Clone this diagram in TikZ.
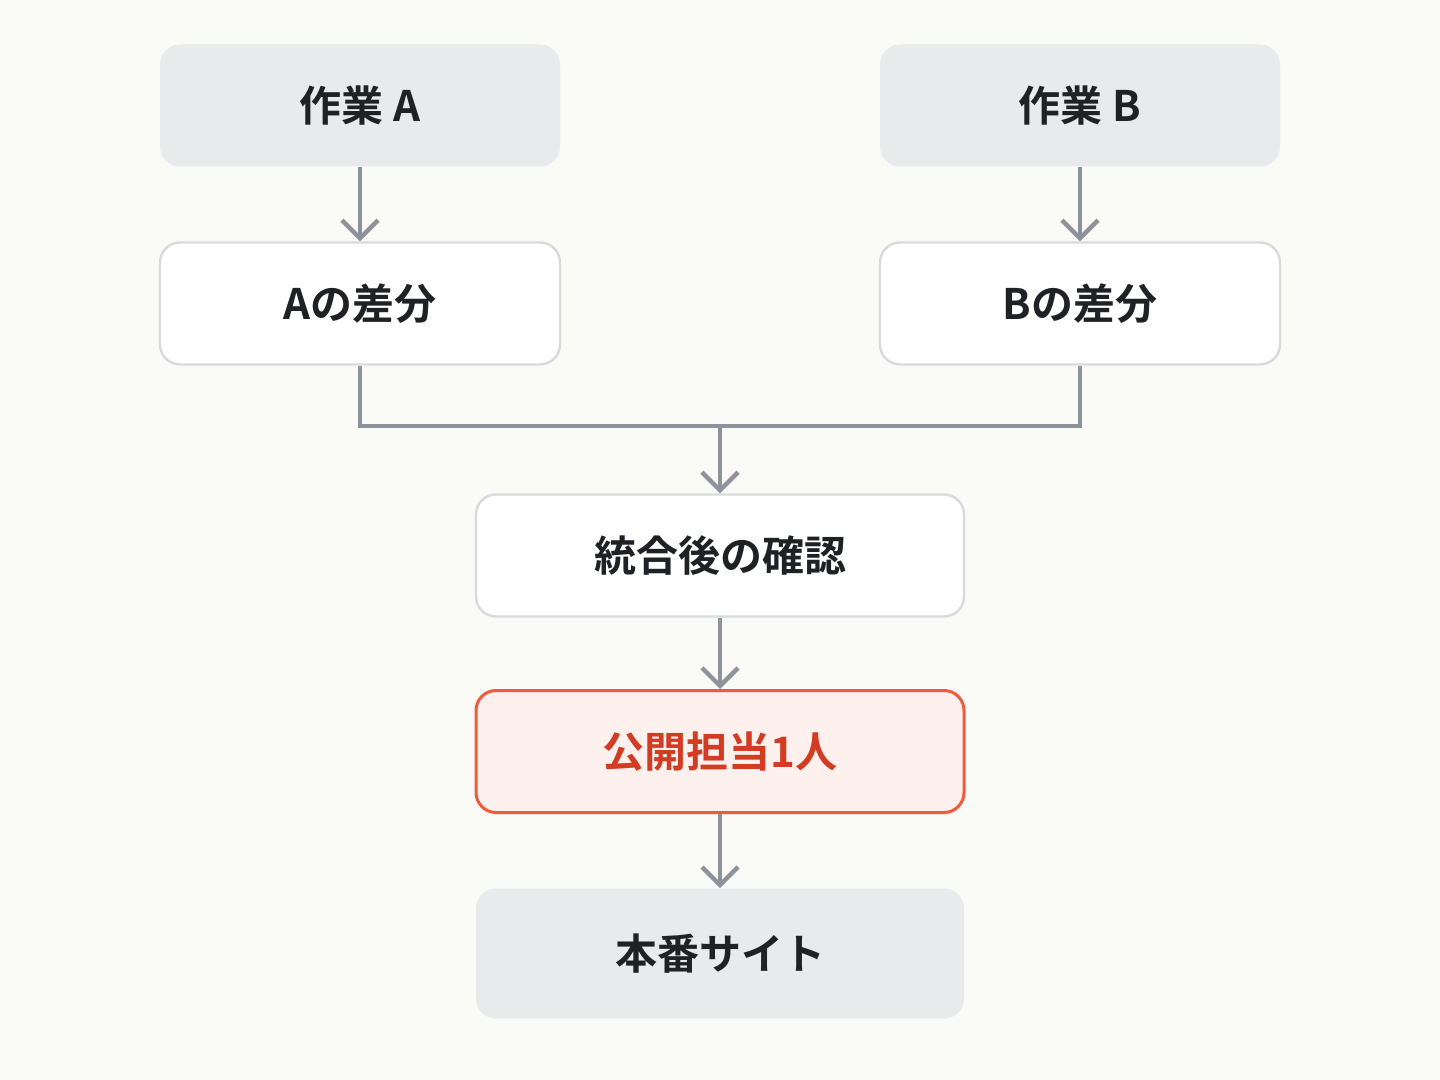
\documentclass[tikz,border=0pt]{standalone}
\usepackage{fontspec}
\setmainfont{Noto Sans CJK JP}[BoldFont={* Bold}]
\usetikzlibrary{arrows.meta}
\definecolor{bg}{HTML}{FAFAF7}
\definecolor{gfill}{HTML}{E9EAEC}
\definecolor{gborder}{HTML}{D9DADD}
\definecolor{arr}{HTML}{8E939B}
\definecolor{rfill}{HTML}{FEF0ED}
\definecolor{rborder}{HTML}{F25A3C}
\definecolor{rtext}{HTML}{D23C22}
\definecolor{txt}{HTML}{1F2125}
\tikzset{
 box/.style={rounded corners=10pt,minimum height=61pt,inner sep=0pt,font=\bfseries\fontsize{21}{25}\selectfont,text=txt},
 grey/.style={box,fill=gfill},
 white/.style={box,fill=white,draw=gborder,line width=1.2pt},
 red/.style={box,fill=rfill,draw=rborder,line width=1.5pt,text=rtext},
 conn/.style={draw=arr,line width=2pt,-{Straight Barb[length=9pt,width=18pt,line width=2.2pt]}},
 line/.style={draw=arr,line width=2pt}
}
\begin{document}
\begin{tikzpicture}[x=0.5pt,y=-0.5pt]
\fill[bg] (0,0) rectangle (1440,1080);
\useasboundingbox (0,0) rectangle (1440,1080);
\node[grey,minimum width=200pt] (wa) at (360,105.5) {作業 A};
\node[grey,minimum width=200pt] (wb) at (1080,105.5) {作業 B};
\node[white,minimum width=200pt] (da) at (360,303.5) {Aの差分};
\node[white,minimum width=200pt] (db) at (1080,303.5) {Bの差分};
\node[white,minimum width=244pt] (ck) at (720,555.5) {統合後の確認};
\node[red,minimum width=244pt] (pub) at (720,751.5) {公開担当1人};
\node[grey,minimum width=244pt,minimum height=65pt] (site) at (720,953.5) {本番サイト};
\coordinate (m) at (720,426);
\draw[conn] (wa) -- (da);
\draw[conn] (wb) -- (db);
\draw[line] (da.south) |- (m) -| (db.south);
\draw[conn] (m) -- (ck.north);
\draw[conn] (ck) -- (pub);
\draw[conn] (pub) -- (site);
\end{tikzpicture}
\end{document}
